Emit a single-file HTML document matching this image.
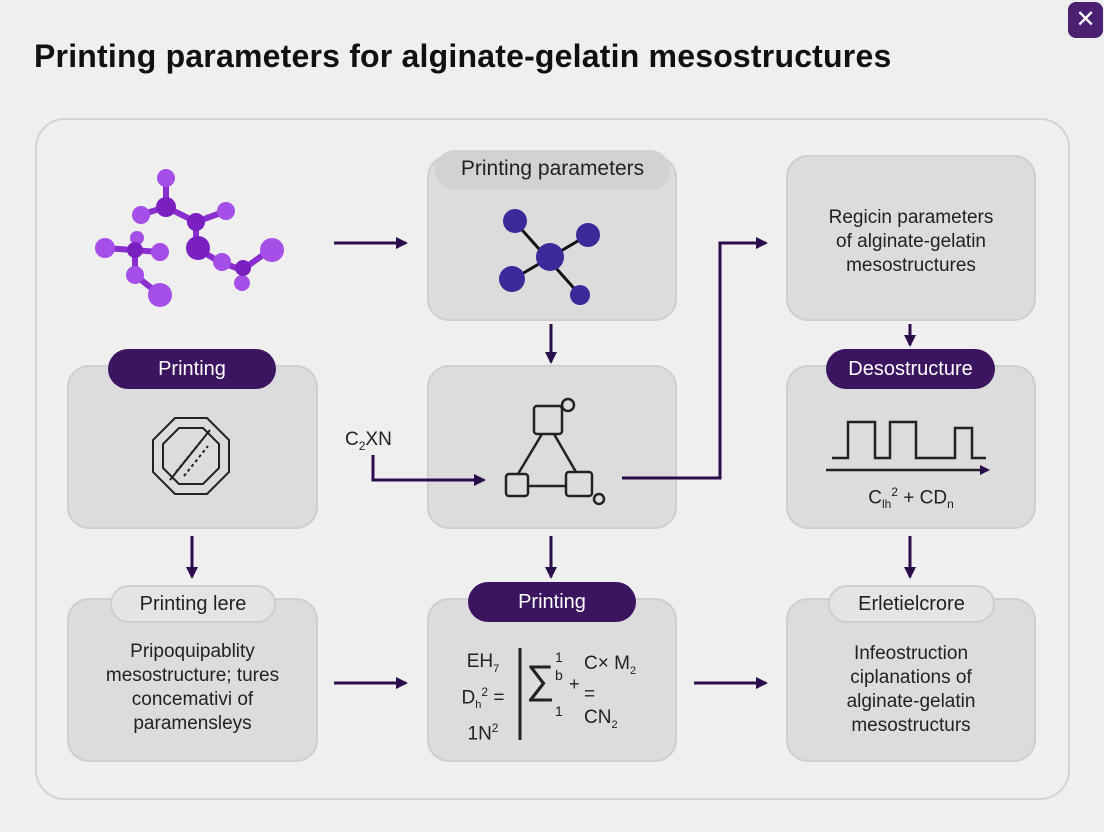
<!DOCTYPE html>
<html><head><meta charset="utf-8"><style>
body{margin:0;width:1104px;height:832px;background:#efefef;font-family:"Liberation Sans",sans-serif;position:relative;overflow:hidden;color:#222}
.box{position:absolute;background:#dcdcdc;border:2px solid #cfcfcf;border-radius:22px;box-sizing:border-box}
.pill{position:absolute;border-radius:20px;text-align:center;font-size:20px;box-sizing:border-box}
.dk{background:#3b1560;color:#fff}
.lt{background:#e4e4e4;border:2px solid #cfcfcf;color:#222}
.t{position:absolute;text-align:center;font-size:19px;line-height:24px;color:#222}
</style></head><body>
<div style="position:absolute;left:34px;top:38px;font-size:32px;font-weight:bold;letter-spacing:0.2px;color:#111">Printing parameters for alginate-gelatin mesostructures</div>
<div style="position:absolute;left:1068px;top:2px;width:35px;height:36px;background:#4a2070;border-radius:8px;color:#fff;font-size:24px;text-align:center;line-height:36px">✕</div>
<div style="position:absolute;left:35px;top:118px;width:1035px;height:682px;border:2px solid #d4d4d4;border-radius:30px;box-sizing:border-box"></div>

<div class="box" style="left:427px;top:155px;width:250px;height:166px"></div>
<div class="pill" style="left:435px;top:150px;width:235px;height:40px;line-height:38px;background:#d2d2d2;font-size:21px">Printing parameters</div>
<div class="box" style="left:786px;top:155px;width:250px;height:166px"></div>
<div class="t" style="left:786px;top:206px;width:250px">Regicin parameters<br>of alginate-gelatin<br>mesostructures</div>

<div class="box" style="left:67px;top:365px;width:251px;height:164px"></div>
<div class="pill dk" style="left:108px;top:349px;width:168px;height:40px;line-height:40px">Printing</div>
<div class="box" style="left:427px;top:365px;width:250px;height:164px"></div>
<div class="box" style="left:786px;top:365px;width:250px;height:164px"></div>
<div class="pill dk" style="left:826px;top:349px;width:169px;height:40px;line-height:40px">Desostructure</div>

<div class="box" style="left:67px;top:598px;width:251px;height:164px"></div>
<div class="pill lt" style="left:110px;top:585px;width:166px;height:38px;line-height:34px">Printing lere</div>
<div class="t" style="left:67px;top:640px;width:251px">Pripoquipablity<br>mesostructure; tures<br>concemativi of<br>paramensleys</div>
<div class="box" style="left:427px;top:598px;width:250px;height:164px"></div>
<div class="pill dk" style="left:468px;top:582px;width:168px;height:40px;line-height:40px">Printing</div>
<div class="box" style="left:786px;top:598px;width:250px;height:164px"></div>
<div class="pill lt" style="left:828px;top:585px;width:167px;height:38px;line-height:34px">Erletielcrore</div>
<div class="t" style="left:786px;top:642px;width:250px">Infeostruction<br>ciplanations of<br>alginate-gelatin<br>mesostructurs</div>

<svg width="1104" height="832" style="position:absolute;left:0;top:0">
<defs><marker id="a" markerWidth="10" markerHeight="10" refX="8" refY="5" orient="auto" markerUnits="userSpaceOnUse"><path d="M0,0L10,5L0,10z" fill="#2a0d4a"/></marker>
<marker id="b" markerWidth="12" markerHeight="12" refX="10" refY="6" orient="auto" markerUnits="userSpaceOnUse"><path d="M0,0L12,6L0,12z" fill="#2a0d4a"/></marker></defs>
<g stroke="#2a0d4a" stroke-width="3" fill="none">
<line x1="334" y1="243" x2="406" y2="243" marker-end="url(#b)"/>
<line x1="551" y1="324" x2="551" y2="362" marker-end="url(#b)"/>
<polyline points="622,478 720,478 720,243 766,243" marker-end="url(#b)"/>
<line x1="910" y1="324" x2="910" y2="345" marker-end="url(#b)"/>
<polyline points="373,455 373,480 484,480" marker-end="url(#b)"/>
<line x1="192" y1="536" x2="192" y2="577" marker-end="url(#b)"/>
<line x1="551" y1="536" x2="551" y2="577" marker-end="url(#b)"/>
<line x1="910" y1="536" x2="910" y2="577" marker-end="url(#b)"/>
<line x1="334" y1="683" x2="406" y2="683" marker-end="url(#b)"/>
<line x1="694" y1="683" x2="766" y2="683" marker-end="url(#b)"/>
</g>
<g stroke="#8a2ed0" stroke-width="6">
<line x1="166" y1="178" x2="166" y2="207"/><line x1="166" y1="207" x2="196" y2="222"/><line x1="196" y1="222" x2="196" y2="248"/>
<line x1="196" y1="248" x2="220" y2="262"/><line x1="220" y1="262" x2="242" y2="270"/><line x1="242" y1="270" x2="270" y2="250"/>
<line x1="135" y1="250" x2="135" y2="275"/><line x1="135" y1="275" x2="160" y2="295"/><line x1="105" y1="248" x2="160" y2="252"/>
<line x1="196" y1="222" x2="226" y2="211"/><line x1="166" y1="207" x2="140" y2="215"/>
</g>
<g fill="#a64fe8">
<circle cx="166" cy="178" r="9"/><circle cx="141" cy="215" r="9"/><circle cx="226" cy="211" r="9"/><circle cx="105" cy="248" r="10"/>
<circle cx="160" cy="252" r="9"/><circle cx="135" cy="275" r="9"/><circle cx="160" cy="295" r="12"/><circle cx="222" cy="262" r="9"/>
<circle cx="272" cy="250" r="12"/><circle cx="242" cy="283" r="8"/><circle cx="137" cy="238" r="7"/>
</g>
<g fill="#7a1fc0"><circle cx="166" cy="207" r="10"/><circle cx="196" cy="222" r="9"/><circle cx="198" cy="248" r="12"/><circle cx="243" cy="268" r="8"/><circle cx="135" cy="250" r="8"/></g>
<g stroke="#111" stroke-width="3"><line x1="515" y1="222" x2="580" y2="295"/><line x1="515" y1="278" x2="588" y2="235"/></g>
<g fill="#3a2a9a"><circle cx="515" cy="221" r="12"/><circle cx="588" cy="235" r="12"/><circle cx="550" cy="257" r="14"/><circle cx="512" cy="279" r="13"/><circle cx="580" cy="295" r="10"/></g>
<g stroke="#222" stroke-width="2" fill="none">
<polygon points="175,418 207,418 229,440 229,472 207,494 175,494 153,472 153,440"/>
<polygon points="179,428 203,428 219,444 219,468 203,484 179,484 163,468 163,444"/>
<line x1="170" y1="480" x2="210" y2="430"/><line x1="176" y1="472" x2="202" y2="440" stroke-dasharray="3 3"/>
<line x1="184" y1="476" x2="208" y2="446" stroke-dasharray="3 3"/>
</g>
<g stroke="#222" stroke-width="2.5" fill="none">
<rect x="534" y="406" width="28" height="28" rx="3"/><circle cx="568" cy="405" r="6"/>
<rect x="506" y="474" width="22" height="22" rx="3"/><rect x="566" y="472" width="26" height="24" rx="3"/><circle cx="599" cy="499" r="5"/>
<line x1="542" y1="434" x2="518" y2="474"/><line x1="554" y1="434" x2="576" y2="472"/><line x1="528" y1="486" x2="566" y2="486"/>
<polyline points="832,458 848,458 848,422 875,422 875,458 890,458 890,422 916,422 916,458 955,458 955,428 972,428 972,458 986,458"/>
</g>
<line x1="826" y1="470" x2="988" y2="470" stroke="#222" stroke-width="2.5" marker-end="url(#a)"/>
<line x1="520" y1="648" x2="520" y2="740" stroke="#222" stroke-width="3"/>
</svg>
<div class="t" style="left:345px;top:428px;font-size:19px">C<sub style="font-size:12px">2</sub>XN</div>
<div class="t" style="left:826px;top:480px;width:170px;font-size:19px">C<sub style="font-size:12px">lh</sub><sup style="font-size:12px">2</sup> + CD<sub style="font-size:12px">n</sub></div>
<div class="t" style="left:448px;top:650px;width:70px;font-size:19px;line-height:23px">EH<sub style="font-size:11px">7</sub><br>D<sub style="font-size:11px">h</sub><sup style="font-size:12px">2</sup> =<br>1N<sup style="font-size:12px">2</sup></div>
<div class="t" style="left:526px;top:658px;font-size:40px;line-height:44px">∑</div>
<div class="t" style="left:555px;top:648px;font-size:14px;line-height:18px">1<br>b<br><br>1</div>
<div class="t" style="left:569px;top:672px;font-size:18px">+</div>
<div class="t" style="left:584px;top:652px;font-size:19px;line-height:23px;text-align:left">C× M<sub style="font-size:11px">2</sub><br>=<br>CN<sub style="font-size:11px">2</sub></div>
</body></html>
